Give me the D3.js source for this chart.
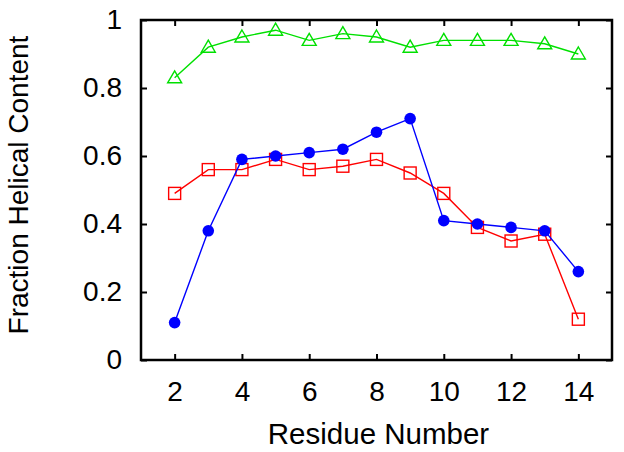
<!DOCTYPE html>
<html><head><meta charset="utf-8">
<script src="https://cdn.jsdelivr.net/npm/d3@7"></script>
<style>body{margin:0;background:#fff}text{font-family:"Liberation Sans",Arial,sans-serif}</style>
</head><body><svg id="c" width="624" height="452"></svg>
<script>
const residues = [2,3,4,5,6,7,8,9,10,11,12,13,14];
const greenVals = [0.83,0.92,0.95,0.97,0.94,0.96,0.95,0.92,0.94,0.94,0.94,0.93,0.90];
const blueVals  = [0.11,0.38,0.59,0.60,0.61,0.62,0.67,0.71,0.41,0.40,0.39,0.38,0.26];
const redVals   = [0.49,0.56,0.56,0.59,0.56,0.57,0.59,0.55,0.49,0.39,0.35,0.37,0.12];
const xTicks = [2,4,6,8,10,12,14];
const yTicks = [0,0.2,0.4,0.6,0.8,1];

const svg = d3.select("#c");
const L=141,R=612,T=20,B=360;
const x = d3.scaleLinear().domain([1,15]).range([L,R]);
const y = d3.scaleLinear().domain([0,1]).range([B,T]);
const tl = 6;
const fs = 28, tfs = 29.5;

const ax = svg.append("g");
ax.append("g").attr("transform",`translate(0,${B})`).call(d3.axisBottom(x).tickValues(xTicks).tickSize(-tl).tickPadding(21).tickFormat(d3.format("d")));
ax.append("g").attr("transform",`translate(0,${T})`).call(d3.axisTop(x).tickValues(xTicks).tickSize(-tl).tickFormat(""));
ax.append("g").attr("transform",`translate(${L},0)`).call(d3.axisLeft(y).tickValues(yTicks).tickSize(-tl).tickPadding(19).tickFormat(d=>d===0||d===1?String(d):d3.format(".1f")(d)));
ax.append("g").attr("transform",`translate(${R},0)`).call(d3.axisRight(y).tickValues(yTicks).tickSize(-tl).tickFormat(""));
ax.selectAll(".domain").remove();
ax.selectAll(".tick line").attr("stroke","#000").attr("stroke-width",2);
ax.selectAll(".tick text").attr("font-size",fs).attr("fill","#000").attr("font-family","Liberation Sans, Arial, sans-serif");
svg.append("rect").attr("x",L).attr("y",T).attr("width",R-L).attr("height",B-T).attr("fill","none").attr("stroke","#000").attr("stroke-width",2.5);

const series = [
  {vals:greenVals,color:"#00e000",shape:"tri"},
  {vals:redVals,color:"#ff0000",shape:"sq"},
  {vals:blueVals,color:"#0000ff",shape:"circ"}
];
const line = d3.line().x((d,i)=>x(residues[i])).y(d=>y(d));
series.forEach(s=>{
  svg.append("path").datum(s.vals).attr("d",line).attr("fill","none").attr("stroke",s.color).attr("stroke-width",1.4);
  const g = svg.append("g");
  s.vals.forEach((v,i)=>{
    const cx=x(residues[i]), cy=y(v);
    if(s.shape==="circ") g.append("circle").attr("cx",cx).attr("cy",cy).attr("r",5.8).attr("fill",s.color);
    else if(s.shape==="sq") g.append("rect").attr("x",cx-6).attr("y",cy-6).attr("width",12).attr("height",12).attr("fill","none").attr("stroke",s.color).attr("stroke-width",1.4);
    else g.append("path").attr("d",`M${cx},${cy-7}L${cx+7},${cy+5}L${cx-7},${cy+5}Z`).attr("fill","none").attr("stroke",s.color).attr("stroke-width",1.4);
  });
});

svg.append("text").attr("x",(L+R)/2+2).attr("y",444).attr("text-anchor","middle").attr("font-size",tfs).text("Residue Number");
svg.append("text").attr("transform",`translate(28,185) rotate(-90)`).attr("text-anchor","middle").attr("font-size",28).text("Fraction Helical Content");
</script></body></html>
